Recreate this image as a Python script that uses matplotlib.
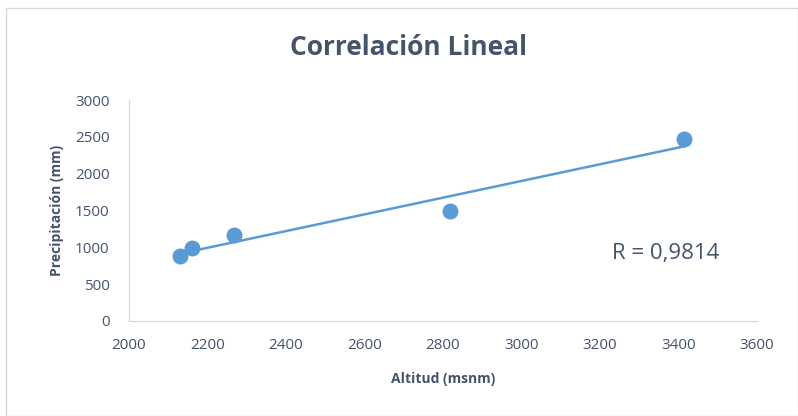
import numpy as np
import matplotlib.pyplot as plt

# Datos
altitud = [2130, 2160, 2267, 2818, 3415]
precipitacion = [882, 991, 1165, 1493, 2468]
r_texto = "R = 0,9814"

plt.rcParams['font.family'] = ['Open Sans', 'DejaVu Sans']
color_texto = '#44546A'
color_punto = '#5B9BD5'

fig = plt.figure(figsize=(7.98, 4.16), dpi=100)
ax = fig.add_axes([0.1617, 0.2284, 0.7869, 0.5312])

# Marco exterior del gráfico
fig.patches.append(plt.Rectangle((0.008, 0.0), 0.992, 0.98, transform=fig.transFigure,
                                 fill=False, edgecolor='#D9D9D9', linewidth=1))

ax.scatter(altitud, precipitacion, s=110, color=color_punto, zorder=3)

# Línea de tendencia lineal
m, b = np.polyfit(altitud, precipitacion, 1)
xs = np.array([min(altitud), max(altitud)])
ax.plot(xs, m * xs + b, color=color_punto, linewidth=1.8, zorder=2)

ax.set_xlim(2000, 3600)
ax.set_ylim(0, 3000)
ax.set_xticks(range(2000, 3601, 200))
ax.set_yticks(range(0, 3001, 500))

for lado in ['top', 'right']:
    ax.spines[lado].set_visible(False)
for lado in ['left', 'bottom']:
    ax.spines[lado].set_color('#D0D6E0')
ax.tick_params(length=0, labelsize=11, colors=color_texto)
ax.tick_params(axis='y', pad=14)
ax.tick_params(axis='x', pad=12)

ax.set_xlabel('Altitud (msnm)', fontsize=10, fontweight='bold', color=color_texto, labelpad=14)
ax.set_ylabel('Precipitación (mm)', fontsize=10, fontweight='bold', color=color_texto, labelpad=8)

fig.text(0.512, 0.885, 'Correlación Lineal', ha='center', va='center',
         fontsize=19, fontweight='bold', color=color_texto)
ax.text(3230, 920, r_texto, fontsize=16, color=color_texto, ha='left', va='center')

fig.savefig('out.png', dpi=100)
